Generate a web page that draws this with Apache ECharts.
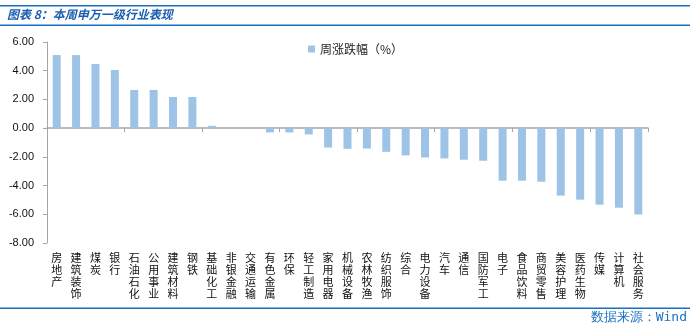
<!DOCTYPE html>
<html>
<head>
<meta charset="utf-8">
<script src="https://cdn.jsdelivr.net/npm/echarts@6/dist/echarts.min.js"></script>
<style>
html,body{margin:0;padding:0;background:#fff;}
#c{width:690px;height:333px;}
</style>
</head>
<body>
<div id="c"></div>
<script>
var categories = ['房地产','建筑装饰','煤炭','银行','石油石化','公用事业','建筑材料','钢铁','基础化工','非银金融','交通运输','有色金属','环保','轻工制造','家用电器','机械设备','农林牧渔','纺织服饰','综合','电力设备','汽车','通信','国防军工','电子','食品饮料','商贸零售','美容护理','医药生物','传媒','计算机','社会服务'];
var weeklyChange = [5.09,5.09,4.47,4.05,2.66,2.66,2.17,2.17,0.16,0.01,-0.01,-0.30,-0.30,-0.44,-1.35,-1.44,-1.42,-1.65,-1.90,-2.04,-2.11,-2.20,-2.27,-3.66,-3.66,-3.73,-4.70,-4.98,-5.33,-5.54,-6.02];
var yTicks = {min:-8, max:6, interval:2};
var seriesName = '周涨跌幅（%）';
var titleText = '图表 8：本周申万一级行业表现';
var sourceText = '数据来源：Wind';

var chart = echarts.init(document.getElementById('c'), null, {renderer:'canvas'});
var axisGray = '#a6a6a6';
chart.setOption({
  animation:false,
  textStyle:{fontFamily:'"Liberation Sans", Arial, sans-serif'},
  grid:{left:47, right:42, top:42, bottom:90},
  legend:{
    data:[seriesName], top:38, left:303, itemWidth:7, itemHeight:7, itemGap:3,
    icon:'rect',
    textStyle:{fontSize:12, color:'#222', fontFamily:'"Noto Sans CJK SC", sans-serif'}
  },
  xAxis:[{
    type:'category', data:categories,
    axisLine:{onZero:true, lineStyle:{color:axisGray, width:1.5}},
    axisTick:{show:true, length:4, lineStyle:{color:axisGray}},
    axisLabel:{show:false}
  },{
    type:'category', data:categories, position:'bottom',
    axisLine:{show:false}, axisTick:{show:false},
    axisLabel:{
      interval:0, margin:9, color:'#111', fontSize:11, lineHeight:12,
      fontFamily:'"Noto Sans CJK SC", sans-serif',
      verticalAlign:'top',
      formatter:function(v){return v.split('').join('\n');}
    }
  }],
  yAxis:{
    type:'value', min:yTicks.min, max:yTicks.max, interval:yTicks.interval,
    axisLine:{show:true, lineStyle:{color:axisGray}},
    axisTick:{show:true, length:4, lineStyle:{color:axisGray}},
    splitLine:{show:false},
    axisLabel:{margin:13, color:'#111', fontSize:11, formatter:function(v){return v.toFixed(2);}}
  },
  series:[{
    name:seriesName, type:'bar', data:weeklyChange, barWidth:8,
    itemStyle:{color:'#9dc3e6'}
  }],
  graphic:[
    {type:'rect', shape:{x:0,y:5,width:690,height:1.5}, style:{fill:'#1a6fc0'}},
    {type:'rect', shape:{x:0,y:24.5,width:690,height:1.5}, style:{fill:'#1a6fc0'}},
    {type:'text', left:7, top:8, style:{text:titleText, fill:'#1a5fb0', font:'italic bold 12px "Noto Sans CJK SC", sans-serif'}},
    {type:'rect', shape:{x:0,y:307.5,width:690,height:1.5}, style:{fill:'#1a6fc0'}},
    {type:'text', right:3, top:311, style:{text:sourceText, fill:'#1a6fc0', font:'13px "DejaVu Sans Mono", monospace'}}
  ]
});
</script>
</body>
</html>
